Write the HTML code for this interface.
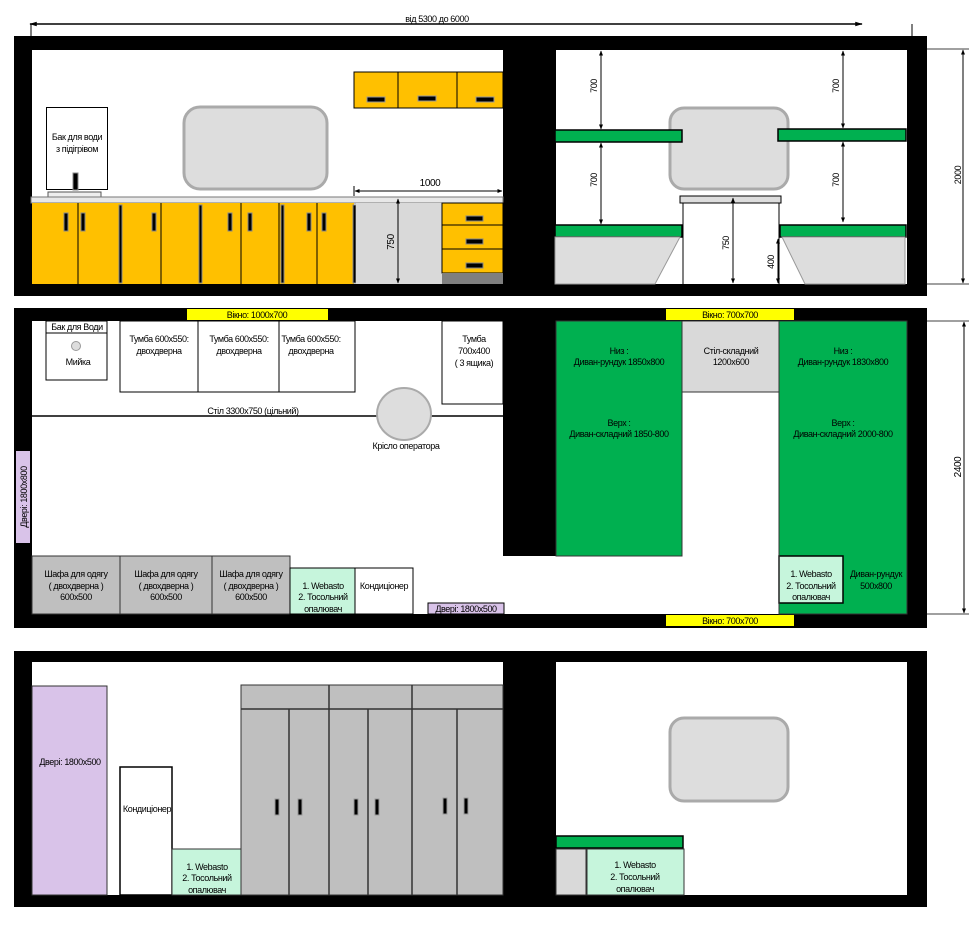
<!DOCTYPE html>
<html><head><meta charset="utf-8"><style>
body{margin:0;background:#fff}
svg{display:block}
text{font-family:"Liberation Sans",sans-serif;font-size:9px;fill:#000;letter-spacing:-0.4px}
</style></head><body>
<svg width="969" height="933" viewBox="0 0 969 933" xmlns="http://www.w3.org/2000/svg">
<defs>
<marker id="a" viewBox="0 0 10 10" refX="9" refY="5" markerWidth="5" markerHeight="5" orient="auto-start-reverse"><path d="M0,1 L10,5 L0,9z" fill="#000"/></marker>
<marker id="b" viewBox="0 0 10 10" refX="9" refY="5" markerWidth="12" markerHeight="5" orient="auto-start-reverse"><path d="M0,2 L10,5 L0,8z" fill="#000"/></marker>
</defs>
<!-- top dimension -->
<line x1="30" y1="24" x2="862" y2="24" stroke="#000" stroke-width="1.5" marker-start="url(#b)" marker-end="url(#b)"/>
<line x1="31" y1="24" x2="31" y2="36" stroke="#000"/>
<line x1="912" y1="24" x2="912" y2="36" stroke="#000"/>
<text x="437" y="22" text-anchor="middle">від 5300 до 6000</text>

<!-- PANEL 1 -->
<rect x="14" y="36" width="913" height="260" fill="#000"/>
<rect x="32" y="50" width="471" height="234" fill="#fff"/>
<rect x="556" y="50" width="351" height="234" fill="#fff"/>
<!-- wall cabinets -->
<g stroke="#000" stroke-width="1" fill="#ffc000">
<rect x="354" y="72" width="44" height="36"/><rect x="398" y="72" width="59" height="36"/><rect x="457" y="72" width="46" height="36"/>
</g>
<g fill="#000" stroke="#999" stroke-width="1">
<rect x="367" y="97" width="18" height="5"/><rect x="418" y="96" width="18" height="5"/><rect x="476" y="97" width="18" height="5"/>
</g>
<!-- water tank -->
<rect x="46.5" y="107.5" width="61" height="82" fill="#fff" stroke="#000"/>
<text x="77" y="140" text-anchor="middle">Бак для води</text>
<text x="77" y="152" text-anchor="middle">з підігрівом</text>
<rect x="73" y="173" width="5" height="17" fill="#000" stroke="#888"/>
<rect x="48" y="192" width="53" height="5" fill="#eee" stroke="#555"/>
<!-- window -->
<rect x="184" y="107" width="143" height="82" rx="16" fill="#ddd" stroke="#aaa" stroke-width="3"/>
<!-- countertop -->
<rect x="31" y="197" width="472" height="6" fill="#e8e8e8" stroke="#777"/>
<!-- base cabinets -->
<rect x="32" y="203" width="322" height="81" fill="#ffc000"/>
<g stroke="#000" stroke-width="1">
<line x1="78" y1="203" x2="78" y2="284"/><line x1="161" y1="203" x2="161" y2="284"/><line x1="241" y1="203" x2="241" y2="284"/><line x1="279" y1="203" x2="279" y2="284"/><line x1="317" y1="203" x2="317" y2="284"/>
</g>
<g fill="#000" stroke="#888" stroke-width="1">
<rect x="119" y="205" width="3" height="78"/><rect x="199" y="205" width="3" height="78"/><rect x="281" y="205" width="3" height="78"/><rect x="353" y="205" width="3" height="78"/>
<rect x="64" y="213" width="4" height="18"/><rect x="81" y="213" width="4" height="18"/><rect x="152" y="213" width="4" height="18"/><rect x="228" y="213" width="4" height="18"/><rect x="248" y="213" width="4" height="18"/><rect x="307" y="213" width="4" height="18"/><rect x="322" y="213" width="4" height="18"/>
</g>
<rect x="356" y="203" width="86" height="81" fill="#d9d9d9"/>
<g stroke="#000" fill="#ffc000"><rect x="442" y="203" width="61" height="22"/><rect x="442" y="225" width="61" height="24"/><rect x="442" y="249" width="61" height="24"/></g>
<rect x="442" y="273" width="61" height="11" fill="#7f7f7f"/>
<g fill="#000" stroke="#888"><rect x="466" y="216" width="17" height="5"/><rect x="466" y="239" width="17" height="5"/><rect x="466" y="263" width="17" height="5"/></g>
<line x1="355" y1="191" x2="502" y2="191" stroke="#000" marker-start="url(#a)" marker-end="url(#a)"/>
<line x1="354" y1="186" x2="354" y2="196" stroke="#000"/>
<text x="430" y="186" text-anchor="middle" style="font-size:10px">1000</text>
<line x1="398" y1="199" x2="398" y2="283" stroke="#000" marker-start="url(#a)" marker-end="url(#a)"/>
<text transform="translate(394,242) rotate(-90)" text-anchor="middle" style="font-size:10px">750</text>
<!-- right room panel 1 -->
<rect x="670" y="108" width="118" height="81" rx="14" fill="#ddd" stroke="#aaa" stroke-width="3"/>
<g fill="#00b050" stroke="#000" stroke-width="1.5">
<rect x="555" y="130" width="127" height="12"/><rect x="778" y="129" width="128" height="12"/>
<rect x="555" y="225" width="127" height="12"/><rect x="780" y="225" width="126" height="12"/>
</g>
<rect x="680" y="196" width="101" height="7" fill="#ddd" stroke="#000"/>
<line x1="683" y1="203" x2="683" y2="284" stroke="#000"/><line x1="779" y1="203" x2="779" y2="284" stroke="#000"/>
<path d="M555,237 L680,237 L655,284 L555,284z" fill="#ddd" stroke="#999"/>
<path d="M782,237 L905,237 L905,284 L805,284z" fill="#ddd" stroke="#999"/>
<g stroke="#000" marker-start="url(#a)" marker-end="url(#a)">
<line x1="601" y1="51" x2="601" y2="129"/><line x1="601" y1="143" x2="601" y2="224"/>
<line x1="843" y1="51" x2="843" y2="128"/><line x1="843" y1="142" x2="843" y2="222"/>
<line x1="733" y1="198" x2="733" y2="283"/><line x1="778" y1="239" x2="778" y2="283"/>
</g>
<g style="font-size:10px" text-anchor="middle">
<text transform="translate(597,86) rotate(-90)">700</text><text transform="translate(597,180) rotate(-90)">700</text>
<text transform="translate(839,86) rotate(-90)">700</text><text transform="translate(839,180) rotate(-90)">700</text>
<text transform="translate(729,243) rotate(-90)">750</text><text transform="translate(774,262) rotate(-90)">400</text>
<text transform="translate(961,175) rotate(-90)">2000</text>
</g>
<line x1="927" y1="49" x2="969" y2="49" stroke="#000" stroke-width="0.7"/><line x1="927" y1="284" x2="969" y2="284" stroke="#000" stroke-width="0.7"/>
<line x1="963" y1="50" x2="963" y2="283" stroke="#000" marker-start="url(#a)" marker-end="url(#a)"/>

<!-- PANEL 2 -->
<rect x="14" y="308" width="913" height="320" fill="#000"/>
<rect x="32" y="321" width="471" height="293" fill="#fff"/>
<rect x="32" y="556" width="747" height="58" fill="#fff"/>
<rect x="556" y="321" width="351" height="293" fill="#fff"/>
<rect x="187" y="309" width="141" height="11" fill="#ffff00"/><text x="257" y="318" text-anchor="middle">Вікно: 1000х700</text>
<rect x="666" y="309" width="128" height="11" fill="#ffff00"/><text x="730" y="318" text-anchor="middle">Вікно: 700х700</text>
<rect x="666" y="615" width="128" height="11" fill="#ffff00"/><text x="730" y="624" text-anchor="middle">Вікно: 700х700</text>
<rect x="16" y="451" width="14" height="92" fill="#d9c3e9"/>
<text transform="translate(27,497) rotate(-90)" text-anchor="middle">Двері: 1800х800</text>
<g stroke="#000" stroke-width="1" fill="#fff">
<rect x="46" y="321" width="61" height="12"/><rect x="46" y="333" width="61" height="47"/>
<rect x="120" y="321" width="78" height="71"/><rect x="198" y="321" width="81" height="71"/><rect x="279" y="321" width="76" height="71"/>
<rect x="442" y="321" width="61" height="83"/>
</g>
<circle cx="76" cy="346" r="4.5" fill="#ddd" stroke="#999"/>
<text x="77" y="330" text-anchor="middle">Бак для Води</text>
<text x="78" y="365" text-anchor="middle">Мийка</text>
<text x="159" y="342" text-anchor="middle">Тумба 600х550:</text><text x="159" y="354" text-anchor="middle">двохдверна</text>
<text x="239" y="342" text-anchor="middle">Тумба 600х550:</text><text x="239" y="354" text-anchor="middle">двохдверна</text>
<text x="311" y="342" text-anchor="middle">Тумба 600х550:</text><text x="311" y="354" text-anchor="middle">двохдверна</text>
<text x="474" y="342" text-anchor="middle">Тумба</text><text x="474" y="354" text-anchor="middle">700х400</text><text x="474" y="366" text-anchor="middle">( 3 ящика)</text>
<line x1="32" y1="416" x2="503" y2="416" stroke="#000" stroke-width="1.5"/>
<text x="253" y="414" text-anchor="middle">Стіл 3300х750 (цільний)</text>
<ellipse cx="404" cy="414" rx="27" ry="26" fill="#ddd" stroke="#aaa" stroke-width="2"/>
<text x="406" y="449" text-anchor="middle">Крісло оператора</text>
<g stroke="#333" fill="#bfbfbf">
<rect x="32" y="556" width="88" height="58"/><rect x="120" y="556" width="92" height="58"/><rect x="212" y="556" width="78" height="58"/>
</g>
<rect x="290" y="568" width="65" height="46" fill="#c6f5dc" stroke="#000"/>
<rect x="355" y="568" width="58" height="46" fill="#fff" stroke="#000"/>
<rect x="428" y="603" width="76" height="11" fill="#d9c3e9" stroke="#000"/>
<text x="76" y="577" text-anchor="middle">Шафа для одягу</text><text x="76" y="589" text-anchor="middle">( двохдверна )</text><text x="76" y="600" text-anchor="middle">600х500</text>
<text x="166" y="577" text-anchor="middle">Шафа для одягу</text><text x="166" y="589" text-anchor="middle">( двохдверна )</text><text x="166" y="600" text-anchor="middle">600х500</text>
<text x="251" y="577" text-anchor="middle">Шафа для одягу</text><text x="251" y="589" text-anchor="middle">( двохдверна )</text><text x="251" y="600" text-anchor="middle">600х500</text>
<text x="323" y="589" text-anchor="middle">1. Webasto</text><text x="323" y="600" text-anchor="middle">2. Тосольний</text><text x="323" y="612" text-anchor="middle">опалювач</text>
<text x="384" y="589" text-anchor="middle">Кондиціонер</text>
<text x="466" y="612" text-anchor="middle">Двері: 1800х500</text>
<!-- right room panel 2 -->
<rect x="556" y="321" width="126" height="235" fill="#00b050" stroke="#333"/>
<rect x="682" y="321" width="97" height="71" fill="#d9d9d9" stroke="#333"/>
<rect x="779" y="321" width="128" height="293" fill="#00b050" stroke="#333"/>
<rect x="779" y="556" width="64" height="47" fill="#c6f5dc" stroke="#000" stroke-width="1.5"/>
<line x1="779" y1="392" x2="779" y2="614" stroke="#333"/>
<text x="619" y="354" text-anchor="middle">Низ :</text><text x="619" y="365" text-anchor="middle">Диван-рундук 1850х800</text>
<text x="619" y="426" text-anchor="middle">Верх :</text><text x="619" y="437" text-anchor="middle">Диван-складний 1850-800</text>
<text x="731" y="354" text-anchor="middle">Стіл-складний</text><text x="731" y="365" text-anchor="middle">1200х600</text>
<text x="843" y="354" text-anchor="middle">Низ :</text><text x="843" y="365" text-anchor="middle">Диван-рундук 1830х800</text>
<text x="843" y="426" text-anchor="middle">Верх :</text><text x="843" y="437" text-anchor="middle">Диван-складний 2000-800</text>
<text x="811" y="577" text-anchor="middle">1. Webasto</text><text x="811" y="589" text-anchor="middle">2. Тосольний</text><text x="811" y="600" text-anchor="middle">опалювач</text>
<text x="876" y="577" text-anchor="middle">Диван-рундук</text><text x="876" y="589" text-anchor="middle">500х800</text>
<line x1="927" y1="321" x2="969" y2="321" stroke="#000" stroke-width="0.7"/><line x1="927" y1="614" x2="969" y2="614" stroke="#000" stroke-width="0.7"/>
<line x1="964" y1="322" x2="964" y2="613" stroke="#000" marker-start="url(#a)" marker-end="url(#a)"/>
<text transform="translate(961,467) rotate(-90)" text-anchor="middle" style="font-size:10px">2400</text>

<!-- PANEL 3 -->
<rect x="14" y="651" width="913" height="256" fill="#000"/>
<rect x="32" y="662" width="471" height="233" fill="#fff"/>
<rect x="556" y="662" width="351" height="233" fill="#fff"/>
<rect x="32" y="686" width="75" height="209" fill="#d9c3e9" stroke="#333"/>
<text x="70" y="765" text-anchor="middle">Двері: 1800х500</text>
<rect x="120" y="767" width="52" height="128" fill="#fff" stroke="#000" stroke-width="1.5"/>
<text x="147" y="812" text-anchor="middle">Кондиціонер</text>
<rect x="172" y="849" width="69" height="46" fill="#c6f5dc" stroke="#333"/>
<text x="207" y="870" text-anchor="middle">1. Webasto</text><text x="207" y="881" text-anchor="middle">2. Тосольний</text><text x="207" y="893" text-anchor="middle">опалювач</text>
<rect x="241" y="685" width="262" height="210" fill="#bfbfbf" stroke="#333"/>
<g stroke="#333" stroke-width="1.5">
<line x1="241" y1="709" x2="503" y2="709"/>
<line x1="329" y1="685" x2="329" y2="895"/><line x1="412" y1="685" x2="412" y2="895"/>
<line x1="289" y1="709" x2="289" y2="895"/><line x1="368" y1="709" x2="368" y2="895"/><line x1="457" y1="709" x2="457" y2="895"/>
</g>
<g fill="#000" stroke="#999"><rect x="275" y="799" width="4" height="16"/><rect x="298" y="799" width="4" height="16"/><rect x="354" y="799" width="4" height="16"/><rect x="375" y="799" width="4" height="16"/><rect x="443" y="798" width="4" height="16"/><rect x="464" y="798" width="4" height="16"/></g>
<rect x="670" y="718" width="118" height="83" rx="14" fill="#ddd" stroke="#aaa" stroke-width="3"/>
<rect x="556" y="836" width="127" height="12" fill="#00b050" stroke="#000" stroke-width="1.5"/>
<rect x="556" y="849" width="30" height="46" fill="#d9d9d9" stroke="#333"/>
<rect x="587" y="849" width="97" height="46" fill="#c6f5dc" stroke="#333"/>
<text x="635" y="868" text-anchor="middle">1. Webasto</text><text x="635" y="880" text-anchor="middle">2. Тосольний</text><text x="635" y="892" text-anchor="middle">опалювач</text>
</svg>
</body></html>
